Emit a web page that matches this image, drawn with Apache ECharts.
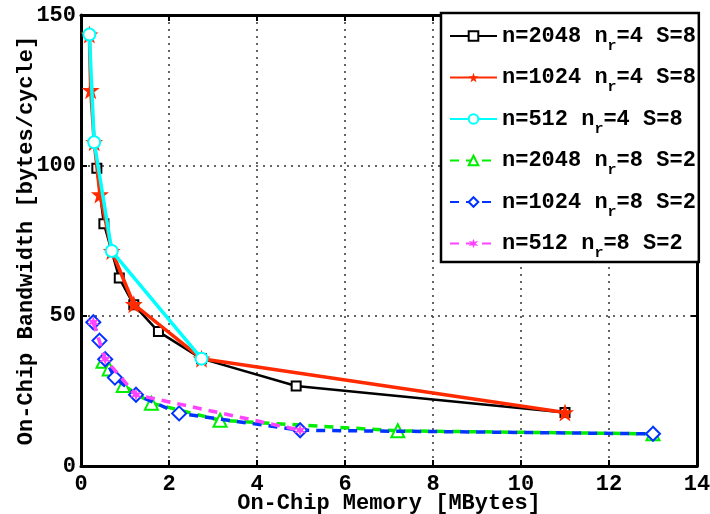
<!DOCTYPE html>
<html>
<head>
<meta charset="utf-8">
<script src="https://cdn.jsdelivr.net/npm/echarts@6/dist/echarts.min.js"></script>
<style>html,body{margin:0;padding:0;background:#fff}#c{width:710px;height:514px}</style>
</head>
<body>
<div id="c"></div>
<script>
// ---- data ----
var seriesNames = ['n=2048 nr=4 S=8','n=1024 nr=4 S=8','n=512 nr=4 S=8','n=2048 nr=8 S=2','n=1024 nr=8 S=2','n=512 nr=8 S=2'];
var legendN = ['2048','1024','512','2048','1024','512'];
var legendNr = ['4','4','4','8','8','8'];
var legendS = ['8','8','8','2','2','2'];

var mem_2048_4 = [0.36, 0.52, 0.87, 1.2, 1.76, 2.74, 4.89, 11.0];
var bw_2048_4  = [99.0, 80.6, 62.5, 53.6, 44.7, 35.7, 26.6, 17.8];

var mem_1024_4 = [0.19, 0.22, 0.30, 0.43, 0.70, 1.2, 2.74, 11.0];
var bw_1024_4  = [143.5, 125.0, 107.7, 90.3, 71.5, 53.8, 35.7, 17.8];

var mem_512_4 = [0.19, 0.30, 0.70, 2.74];
var bw_512_4  = [143.5, 107.7, 71.5, 35.7];

var mem_2048_8 = [0.50, 0.64, 0.96, 1.6, 3.16, 7.2, 13.0];
var bw_2048_8  = [34.8, 32.3, 26.8, 20.9, 15.2, 11.7, 10.7];

var mem_1024_8 = [0.28, 0.42, 0.55, 0.77, 1.25, 2.23, 4.98, 13.0];
var bw_1024_8  = [47.8, 41.7, 35.5, 29.4, 23.7, 17.5, 11.9, 10.7];

var mem_512_8 = [0.28, 0.55, 1.25, 4.98];
var bw_512_8  = [47.8, 35.5, 23.7, 11.9];

var xTicks = [0, 2, 4, 6, 8, 10, 12, 14];
var yTicks = [0, 50, 100, 150];
// ---------------

function zip(xs, ys) { return xs.map(function (x, i) { return [x, ys[i]]; }); }

var FONT = '"Liberation Mono", "DejaVu Sans Mono", monospace';
var STAR = 'path://M0,-10 L2.35,-3.24 L9.51,-3.09 L3.8,1.24 L5.88,8.09 L0,4 L-5.88,8.09 L-3.8,1.24 L-9.51,-3.09 L-2.35,-3.24 Z';
var ASTER = 'path://M0,-5 L1,-1.73 L4.33,-2.5 L2,0 L4.33,2.5 L1,1.73 L0,5 L-1,1.73 L-4.33,2.5 L-2,0 L-4.33,-2.5 L-1,-1.73 Z';

var chart = echarts.init(document.getElementById('c'), null, { renderer: 'canvas' });

var labelStyle = { color: '#000', fontFamily: FONT, fontWeight: 'bold', fontSize: 22 };
var gridLine = { show: true, lineStyle: { color: '#333', type: [2, 5], width: 1.5 } };

function mkSeries(name, data, color, symbol, size, lineType, lw, itemStyle, z) {
  return {
    name: name, type: 'line', data: data,
    symbol: symbol, symbolSize: size, showSymbol: true,
    lineStyle: { color: color, width: lw, type: lineType },
    itemStyle: itemStyle, z: z, animation: false
  };
}

var series = [
  mkSeries(seriesNames[0], zip(mem_2048_4, bw_2048_4), '#000', 'emptyRect', 9, 'solid', 2.5,
    { color: '#000', borderColor: '#000', borderWidth: 2.5 }, 2),
  mkSeries(seriesNames[1], zip(mem_1024_4, bw_1024_4), '#ff2a00', STAR, 18, 'solid', 3.5,
    { color: '#ff2a00', borderWidth: 0 }, 3),
  mkSeries(seriesNames[2], zip(mem_512_4, bw_512_4), '#00ffff', 'emptyCircle', 12, 'solid', 3.5,
    { color: '#00ffff', borderColor: '#00ffff', borderWidth: 3 }, 4),
  mkSeries(seriesNames[3], zip(mem_2048_8, bw_2048_8), '#00ee00', 'emptyTriangle', 13, [9, 7], 3.5,
    { color: '#00ee00', borderColor: '#00ee00', borderWidth: 3 }, 5),
  mkSeries(seriesNames[4], zip(mem_1024_8, bw_1024_8), '#0033ff', 'emptyDiamond', 14, [9, 7], 3.5,
    { color: '#0033ff', borderColor: '#0033ff', borderWidth: 3.5 }, 6),
  mkSeries(seriesNames[5], zip(mem_512_8, bw_512_8), '#ff44ff', ASTER, 12, [9, 7], 3.5,
    { color: '#ff44ff', borderWidth: 0 }, 7)
];

var option = {
  backgroundColor: '#fff',
  animation: false,
  grid: { left: 81, right: 13, top: 15, bottom: 48, containLabel: false, outerBoundsMode: 'none' },
  legend: {
    orient: 'vertical', left: 441, top: 13,
    backgroundColor: '#fff', borderColor: '#000', borderWidth: 2.5,
    padding: [12, 3, 1, 8], itemGap: 13, itemWidth: 47, itemHeight: 12,
    data: seriesNames,
    formatter: function (name) {
      var i = seriesNames.indexOf(name);
      return '{a|n=' + legendN[i] + ' n}{s|r}{a|=' + legendNr[i] + ' S=' + legendS[i] + '}';
    },
    textStyle: {
      color: '#000', fontFamily: FONT, fontWeight: 'bold', fontSize: 22,
      rich: {
        a: { fontFamily: FONT, fontWeight: 'bold', fontSize: 22, color: '#000' },
        s: { fontFamily: FONT, fontWeight: 'bold', fontSize: 15, color: '#000', padding: [20, 0, 0, 0] }
      }
    }
  },
  xAxis: [
    {
      type: 'value', position: 'bottom', min: 0, max: 14, interval: 2,
      name: 'On-Chip Memory [MBytes]', nameLocation: 'middle', nameGap: 26, nameMoveOverlap: false,
      nameTextStyle: labelStyle,
      axisLine: { show: true, onZero: false, lineStyle: { color: '#000', width: 3 } },
      axisTick: { show: true, inside: true, length: 6, lineStyle: { color: '#000', width: 2 } },
      axisLabel: Object.assign({ margin: 7, formatter: function (v) { return xTicks.indexOf(v) >= 0 ? String(v) : ''; } }, labelStyle),
      splitLine: gridLine
    },
    {
      type: 'value', position: 'top', min: 0, max: 14, interval: 2,
      axisLine: { show: true, onZero: false, lineStyle: { color: '#000', width: 3 } },
      axisTick: { show: true, inside: true, length: 6, lineStyle: { color: '#000', width: 2 } },
      axisLabel: { show: false }, splitLine: { show: false }
    }
  ],
  yAxis: [
    {
      type: 'value', position: 'left', min: 0, max: 150, interval: 50,
      name: 'On-Chip Bandwidth [bytes/cycle]', nameLocation: 'middle', nameGap: 44, nameMoveOverlap: false,
      nameTextStyle: labelStyle,
      axisLine: { show: true, onZero: false, lineStyle: { color: '#000', width: 3 } },
      axisTick: { show: true, inside: true, length: 6, lineStyle: { color: '#000', width: 2 } },
      axisLabel: Object.assign({ margin: 5, formatter: function (v) { return yTicks.indexOf(v) >= 0 ? String(v) : ''; } }, labelStyle),
      splitLine: gridLine
    },
    {
      type: 'value', position: 'right', min: 0, max: 150, interval: 50,
      axisLine: { show: true, onZero: false, lineStyle: { color: '#000', width: 3 } },
      axisTick: { show: true, inside: true, length: 6, lineStyle: { color: '#000', width: 2 } },
      axisLabel: { show: false }, splitLine: { show: false }
    }
  ],
  series: series
};
chart.setOption(option);
</script>
</body>
</html>
